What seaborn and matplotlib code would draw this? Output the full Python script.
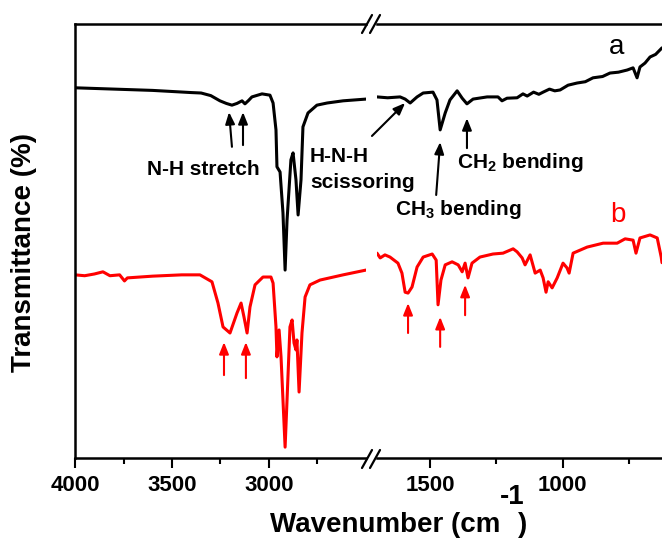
import numpy as np
import pandas as pd
import matplotlib
matplotlib.use("Agg")
import matplotlib.pyplot as plt
import seaborn as sns
from matplotlib.lines import Line2D

# ---------------- data (wavenumber cm-1, transmittance a.u.) ----------------
black_left_wn = [4000, 3800, 3600, 3400, 3350, 3300, 3253, 3220, 3191, 3165, 3139, 3124,
                 3105, 3088, 3036, 2995, 2979, 2964, 2959, 2943, 2928, 2917, 2907, 2887,
                 2876, 2861, 2850, 2835, 2825, 2799, 2753, 2700, 2618, 2500]
black_left_t = [85.3, 85.0, 84.7, 84.2, 84.1, 83.5, 82.3, 81.7, 81.3, 81.7, 82.3, 81.6,
                82.4, 83.2, 83.9, 83.6, 81.8, 75.6, 67.1, 65.9, 56.5, 43.3, 54.8, 68.7,
                70.3, 64.1, 56.0, 64.1, 76.3, 79.5, 81.3, 81.8, 82.3, 82.7]

black_right_wn = [1700, 1660, 1613, 1594, 1575, 1549, 1526, 1489, 1474, 1462, 1443, 1425,
                  1398, 1379, 1361, 1338, 1285, 1244, 1229, 1210, 1172, 1150, 1134, 1110,
                  1090, 1074, 1050, 1030, 1010, 980, 946, 915, 886, 850, 822, 790, 757,
                  735, 720, 709, 690, 671, 650, 626]
black_right_t = [83.2, 83.0, 83.2, 82.7, 81.8, 83.2, 84.1, 84.3, 82.5, 75.6, 79.5, 82.5,
                 84.6, 82.9, 81.6, 82.7, 83.2, 83.2, 82.3, 82.9, 83.0, 83.9, 83.4, 84.3,
                 83.8, 84.3, 85.0, 84.6, 84.8, 85.9, 86.4, 86.7, 87.6, 87.9, 88.7, 88.9,
                 89.4, 89.9, 87.6, 90.1, 91.0, 92.4, 93.0, 94.5]

red_left_wn = [4000, 3950, 3900, 3856, 3820, 3770, 3745, 3730, 3600, 3450, 3356, 3294,
               3263, 3237, 3201, 3165, 3144, 3129, 3113, 3098, 3072, 3031, 2990, 2979,
               2964, 2959, 2948, 2938, 2928, 2917, 2907, 2892, 2881, 2871, 2861, 2856,
               2845, 2830, 2814, 2789, 2737, 2618, 2500]
red_left_t = [42.2, 42.0, 42.4, 42.9, 42.0, 42.2, 40.8, 41.5, 41.9, 42.2, 42.2, 40.6,
              35.7, 30.2, 28.8, 33.4, 35.7, 32.5, 28.8, 34.8, 39.9, 41.7, 41.7, 40.3,
              30.2, 23.3, 29.5, 23.3, 13.4, 2.5, 13.4, 30.2, 31.8, 26.5, 24.9, 27.2,
              15.2, 28.8, 37.1, 39.9, 41.0, 42.2, 43.3]

red_right_wn = [1700, 1688, 1670, 1651, 1621, 1606, 1594, 1583, 1568, 1549, 1526, 1492,
                1477, 1470, 1459, 1443, 1417, 1394, 1379, 1368, 1357, 1342, 1312, 1263,
                1225, 1187, 1172, 1153, 1142, 1123, 1104, 1085, 1074, 1063, 1055, 1040,
                1021, 999, 984, 976, 961, 908, 848, 795, 765, 735, 724, 709, 671, 644,
                629, 626]
red_right_t = [47.2, 46.1, 46.8, 46.3, 44.9, 42.6, 38.2, 38.0, 39.4, 44.0, 46.3, 47.0,
               45.6, 35.3, 41.0, 44.5, 45.2, 44.5, 42.9, 44.9, 41.5, 44.9, 46.3, 47.0,
               47.2, 48.2, 47.5, 46.1, 44.5, 46.8, 42.6, 43.3, 41.5, 38.2, 40.6, 39.2,
               41.5, 44.9, 43.8, 42.6, 47.2, 48.6, 49.5, 49.5, 50.5, 50.2, 47.2, 50.7,
               51.4, 50.7, 46.3, 45.0]

left_major = [4000, 3500, 3000]
left_minor = [3750, 3250, 2750]
right_major = [1500, 1000]
right_minor = [1250, 750]

# ---------------- style ----------------
sns.set_style("ticks")
plt.rcParams['font.family'] = ['Liberation Sans', 'DejaVu Sans']
plt.rcParams['mathtext.fontset'] = 'custom'
plt.rcParams['mathtext.rm'] = 'Liberation Sans:bold'
plt.rcParams['mathtext.it'] = 'Liberation Sans:bold'
plt.rcParams['mathtext.bf'] = 'Liberation Sans:bold'
plt.rcParams['text.color'] = 'black'
plt.rcParams['axes.labelcolor'] = 'black'
plt.rcParams['xtick.color'] = 'black'
plt.rcParams['xtick.labelcolor'] = 'black'
plt.rcParams['axes.edgecolor'] = 'black'

W, H = 662, 545
fig = plt.figure(figsize=(W / 100, H / 100), dpi=100)
fig.patch.set_facecolor('white')


def fx(x):
    return x / W


def fy(y):
    return 1 - y / H


AX_TOP, AX_BOT = 24, 458
L_LEFT, L_RIGHT = 75, 366
R_LEFT, R_RIGHT = 377, 662

ax1 = fig.add_axes([fx(L_LEFT), fy(AX_BOT), (L_RIGHT - L_LEFT) / W, (AX_BOT - AX_TOP) / H])
ax2 = fig.add_axes([fx(R_LEFT), fy(AX_BOT), (R_RIGHT - R_LEFT) / W, (AX_BOT - AX_TOP) / H])

LW = 2.2
df_bl = pd.DataFrame({'wn': black_left_wn, 't': black_left_t})
df_rl = pd.DataFrame({'wn': red_left_wn, 't': red_left_t})
df_br = pd.DataFrame({'wn': black_right_wn, 't': black_right_t})
df_rr = pd.DataFrame({'wn': red_right_wn, 't': red_right_t})

kw = dict(estimator=None, sort=False, lw=LW, solid_joinstyle='round', solid_capstyle='round')
sns.lineplot(data=df_bl, x='wn', y='t', ax=ax1, color='black', **kw)
sns.lineplot(data=df_rl, x='wn', y='t', ax=ax1, color='#ff0000', **kw)
sns.lineplot(data=df_br, x='wn', y='t', ax=ax2, color='black', **kw)
sns.lineplot(data=df_rr, x='wn', y='t', ax=ax2, color='#ff0000', **kw)

ax1.set_xlim(4000, 2500)
ax2.set_xlim(1700, 626)
for ax in (ax1, ax2):
    ax.set_ylim(0, 100)
    ax.set_yticks([])
    ax.set_xlabel('')
    ax.set_ylabel('')
    ax.set_facecolor('none')
    for s in ax.spines.values():
        s.set_linewidth(1.8)
        s.set_color('black')
    ax.tick_params(axis='x', which='major', direction='out', length=7, width=1.5,
                   labelsize=16, pad=5, colors='black')
    ax.tick_params(axis='x', which='minor', direction='out', length=4.5, width=1.5,
                   colors='black')

ax1.spines['right'].set_visible(False)
ax2.spines['left'].set_visible(False)
ax2.spines['right'].set_visible(False)

ax1.set_xticks(left_major)
ax1.set_xticks(left_minor, minor=True)
ax2.set_xticks(right_major)
ax2.set_xticks(right_minor, minor=True)
for ax in (ax1, ax2):
    for lab in ax.get_xticklabels():
        lab.set_fontweight('bold')
        lab.set_color('black')

# break marks
for cx in (367, 375):
    for cy in (AX_TOP, AX_BOT + 1):
        fig.add_artist(Line2D([fx(cx - 5), fx(cx + 5)], [fy(cy + 9), fy(cy - 9)],
                              transform=fig.transFigure, color='black', lw=1.6))

# ---------------- annotations ----------------
AS = '-|>,head_length=0.5,head_width=0.2'


def arrow(ax, head, tail, color):
    ax.annotate('', xy=head, xytext=tail,
                arrowprops=dict(arrowstyle=AS, color=color, lw=1.5, mutation_scale=14,
                                shrinkA=0, shrinkB=0),
                annotation_clip=False)


# black arrows
arrow(ax1, (3206, 79.7), (3191, 71.7), 'black')
arrow(ax1, (3134, 79.7), (3134, 72.1), 'black')
arrow(ax2, (1594, 81.8), (1719, 74.2), 'black')
arrow(ax2, (1462, 72.8), (1477, 60.6), 'black')
arrow(ax2, (1361, 78.3), (1361, 71.4), 'black')
# red arrows
arrow(ax1, (3232, 26.7), (3232, 19.1), '#ff0000')
arrow(ax1, (3119, 26.7), (3119, 18.4), '#ff0000')
arrow(ax2, (1583, 35.7), (1583, 28.8), '#ff0000')
arrow(ax2, (1462, 32.5), (1462, 25.6), '#ff0000')
arrow(ax2, (1368, 39.9), (1368, 32.9), '#ff0000')

TS = 15
fig.text(fx(203), fy(175), 'N-H stretch', ha='center', va='baseline', fontsize=TS, fontweight='bold', color='black')
fig.text(fx(310), fy(162), 'H-N-H', ha='left', va='baseline', fontsize=TS, fontweight='bold', color='black')
fig.text(fx(310), fy(188), 'scissoring', ha='left', va='baseline', fontsize=TS, fontweight='bold', color='black')
fig.text(fx(395), fy(215), r'CH$_3$ bending', ha='left', va='baseline', fontsize=TS, fontweight='bold', color='black')
fig.text(fx(457), fy(168), r'CH$_2$ bending', ha='left', va='baseline', fontsize=TS, fontweight='bold', color='black')
fig.text(fx(617), fy(54), 'a', ha='center', va='baseline', fontsize=20, color='black')
fig.text(fx(618), fy(222), 'b', ha='center', va='baseline', fontsize=20, color='#ff0000')

# axis labels
fig.text(fx(24), fy(253), 'Transmittance (%)', rotation=90, ha='center', va='center',
         fontsize=20, fontweight='bold', color='black')
fig.text(fx(270), fy(532), 'Wavenumber (cm', ha='left', va='baseline', fontsize=20, fontweight='bold', color='black')
fig.text(fx(512), fy(504), '-1', ha='center', va='baseline', fontsize=20, fontweight='bold', color='black')
fig.text(fx(518), fy(532), ')', ha='left', va='baseline', fontsize=20, fontweight='bold', color='black')

fig.savefig('out.png', dpi=100, facecolor='white')
